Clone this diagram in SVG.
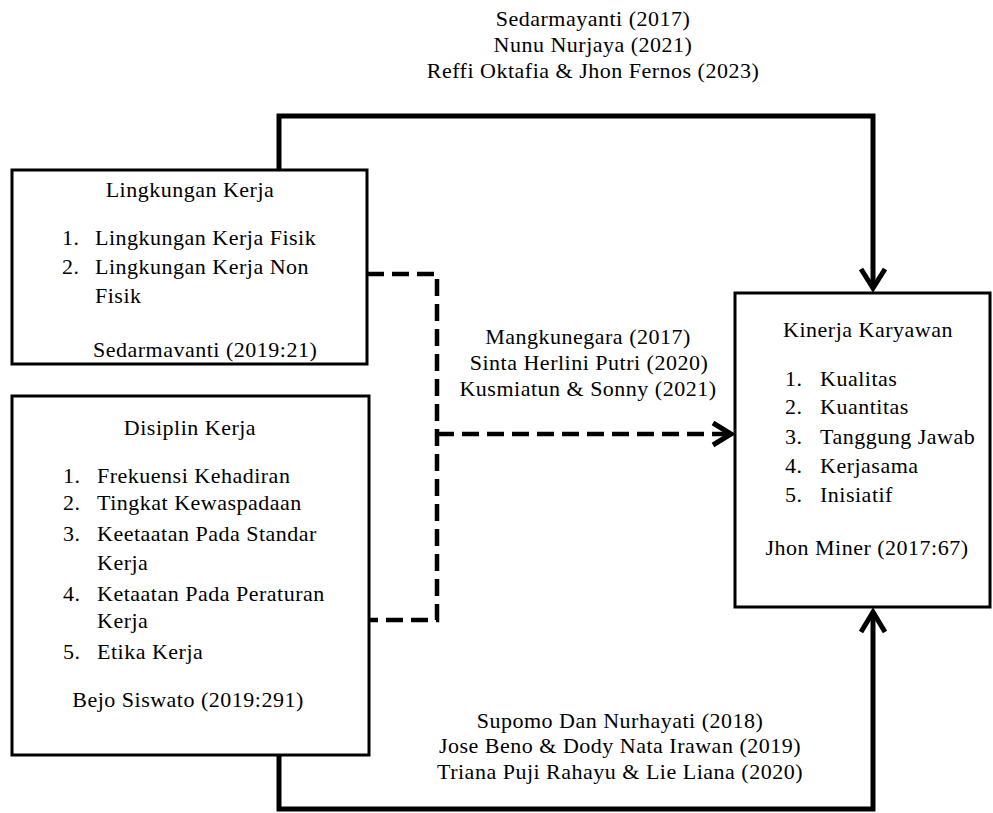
<svg xmlns="http://www.w3.org/2000/svg" width="993" height="813" viewBox="0 0 993 813">
<style>
.box{fill:#fff;stroke:#000;stroke-width:3}
text{font-family:"Liberation Serif","Times New Roman",serif;font-size:22px;letter-spacing:0.5px;fill:#000}
.c{text-anchor:middle}
.solid{fill:none;stroke:#000;stroke-width:5}
.dash{fill:none;stroke:#000;stroke-width:4.5;stroke-dasharray:17 8}
.head{fill:none;stroke:#000;stroke-width:5;stroke-linecap:butt;stroke-linejoin:miter}
</style>
<rect width="993" height="813" fill="#fff"/>
<g id="connectors">
<polyline class="solid" points="279,170 279,116 873,116 873,287"/>
<polyline class="head" points="861,269 873,288 885,269"/>
<polyline class="solid" points="279,755 279,809 873,809 873,612"/>
<polyline class="head" points="861,632 873,612 885,632"/>
<polyline class="dash" points="367,274 437,274 437,620 369,620"/>
<polyline class="dash" points="437,434 729,434"/>
<polyline class="head" points="713,423 731,434 713,445"/>
</g>
<g id="label-top">
<text class="c" x="593" y="26">Sedarmayanti (2017)</text>
<text class="c" x="593" y="52">Nunu Nurjaya (2021)</text>
<text class="c" x="593" y="78">Reffi Oktafia &amp; Jhon Fernos (2023)</text>
</g>
<g id="label-mid">
<text class="c" x="588" y="344">Mangkunegara (2017)</text>
<text class="c" x="589" y="370">Sinta Herlini Putri (2020)</text>
<text class="c" x="588" y="396">Kusmiatun &amp; Sonny (2021)</text>
</g>
<g id="label-bottom">
<text class="c" x="620" y="728">Supomo Dan Nurhayati (2018)</text>
<text class="c" x="620" y="753">Jose Beno &amp; Dody Nata Irawan (2019)</text>
<text class="c" x="620" y="779">Triana Puji Rahayu &amp; Lie Liana (2020)</text>
</g>
<g id="lingkungan-kerja">
<rect class="box" x="12" y="170" width="355" height="194"/>
<text class="c" x="190" y="197">Lingkungan Kerja</text>
<text x="62" y="245">1.</text><text x="95" y="245">Lingkungan Kerja Fisik</text>
<text x="62" y="274">2.</text><text x="95" y="274">Lingkungan Kerja Non</text>
<text x="95" y="303">Fisik</text>
<text x="93" y="357">Sedarmavanti (2019:21)</text>
</g>
<g id="disiplin-kerja">
<rect class="box" x="12" y="396" width="357" height="359"/>
<text class="c" x="190" y="435">Disiplin Kerja</text>
<text x="63" y="483">1.</text><text x="97" y="483">Frekuensi Kehadiran</text>
<text x="63" y="510">2.</text><text x="97" y="510">Tingkat Kewaspadaan</text>
<text x="63" y="541">3.</text><text x="97" y="541">Keetaatan Pada Standar</text>
<text x="97" y="570">Kerja</text>
<text x="63" y="601">4.</text><text x="97" y="601">Ketaatan Pada Peraturan</text>
<text x="97" y="628">Kerja</text>
<text x="63" y="659">5.</text><text x="97" y="659">Etika Kerja</text>
<text class="c" x="188" y="707">Bejo Siswato (2019:291)</text>
</g>
<g id="kinerja-karyawan">
<rect class="box" x="735" y="293" width="255" height="314"/>
<text class="c" x="868" y="337">Kinerja Karyawan</text>
<text x="785" y="386">1.</text><text x="820" y="386">Kualitas</text>
<text x="785" y="414">2.</text><text x="820" y="414">Kuantitas</text>
<text x="785" y="444">3.</text><text x="820" y="444">Tanggung Jawab</text>
<text x="785" y="473">4.</text><text x="820" y="473">Kerjasama</text>
<text x="785" y="502">5.</text><text x="820" y="502">Inisiatif</text>
<text class="c" x="867" y="555">Jhon Miner (2017:67)</text>
</g>
</svg>
